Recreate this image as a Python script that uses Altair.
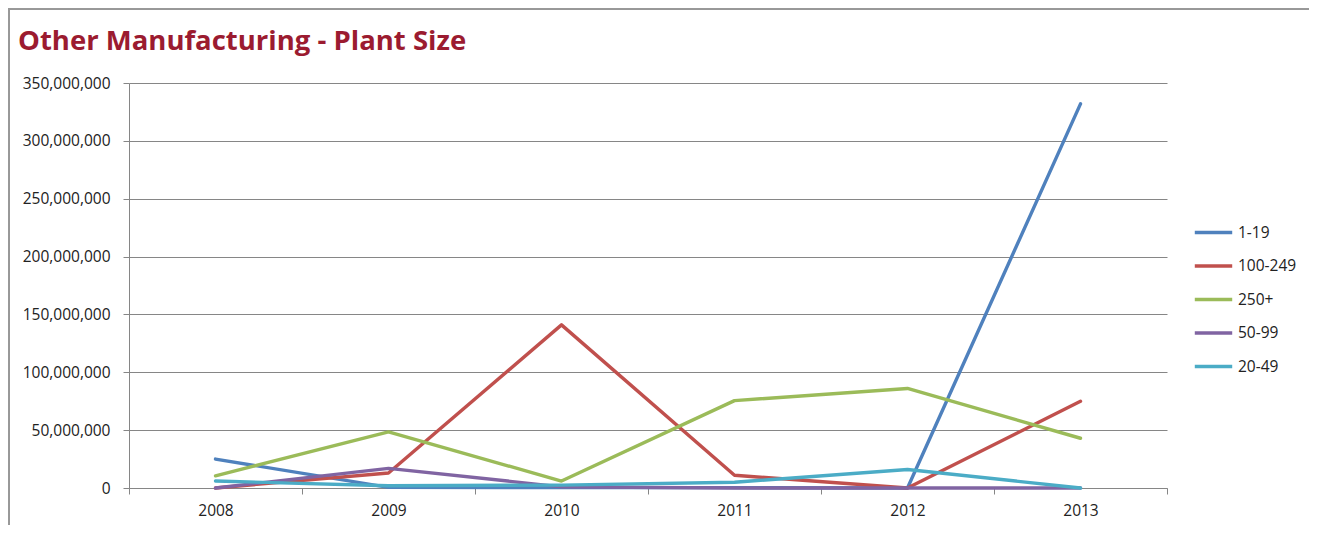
import altair as alt
import pandas as pd

years = ["2008", "2009", "2010", "2011", "2012", "2013"]
series_names = ["1-19", "100-249", "250+", "50-99", "20-49"]
colors = ["#4F81BD", "#C0504D", "#9BBB59", "#8064A2", "#4BACC6"]

s_1_19 = [25000000, 500000, 300000, 300000, 0, 332000000]
s_100_249 = [0, 13000000, 141000000, 11000000, 0, 75000000]
s_250 = [10500000, 48500000, 6000000, 75500000, 86000000, 43000000]
s_50_99 = [0, 17000000, 1000000, 0, 0, 0]
s_20_49 = [6000000, 2000000, 2500000, 5000000, 16000000, 0]

y_ticks = [0, 50000000, 100000000, 150000000, 200000000, 250000000, 300000000, 350000000]

all_series = [s_1_19, s_100_249, s_250, s_50_99, s_20_49]
rows = []
for name, vals in zip(series_names, all_series):
    for yr, v in zip(years, vals):
        rows.append({"Year": yr, "Series": name, "Value": v})
df = pd.DataFrame(rows)

GRID = "#868686"
FONT = "Open Sans"

lines = alt.Chart(df).mark_line(strokeWidth=3.4, strokeCap="round", strokeJoin="round").encode(
    x=alt.X("Year:N", sort=years, title=None,
            scale=alt.Scale(paddingInner=0, paddingOuter=0),
            axis=alt.Axis(labelAngle=0, tickBand="extent", grid=False, tickSize=6,
                          domainColor=GRID, tickColor=GRID, labelPadding=9,
                          labelFont=FONT, labelFontSize=15.5, labelColor="#222222")),
    y=alt.Y("Value:Q", title=None,
            scale=alt.Scale(domain=[0, 350000000], nice=False),
            axis=alt.Axis(values=y_ticks, format=",d", tickSize=6, labelPadding=13,
                          gridColor=GRID, domainColor=GRID, tickColor=GRID,
                          labelFont=FONT, labelFontSize=15.5, labelColor="#222222")),
    color=alt.Color("Series:N", sort=series_names,
                    scale=alt.Scale(domain=series_names, range=colors),
                    legend=alt.Legend(title=None, orient="none", legendX=1064, legendY=129,
                                      symbolType="stroke", symbolSize=1400, symbolStrokeWidth=3.4,
                                      labelFont=FONT, labelFontSize=15.5, labelColor="#222222",
                                      rowPadding=4.5, labelOffset=4)),
    order=alt.Order("Series:N"),
)

border_top = alt.Chart(df).mark_rule(color="#999999", strokeWidth=1.5).encode(
    x=alt.value(-121), x2=alt.value(1180), y=alt.value(-74.5)
)
border_left = alt.Chart(df).mark_rule(color="#999999", strokeWidth=1.5).encode(
    x=alt.value(-120.5), y=alt.value(-75), y2=alt.value(450)
)

chart = alt.layer(border_top, border_left, lines).properties(
    width=1038,
    height=405,
    autosize=alt.AutoSizeParams(type="none"),
    padding={"left": 121, "top": 75, "right": 142, "bottom": 37},
    title=alt.TitleParams("Other Manufacturing - Plant Size", anchor="start", frame="group",
                          dx=-111, dy=70, offset=0, baseline="alphabetic",
                          font=FONT, fontSize=27.5, fontWeight="bold", color="#9B1B30"),
).configure_view(stroke=None)

chart.save("out.html", embed_options={"renderer": "svg", "actions": False})
